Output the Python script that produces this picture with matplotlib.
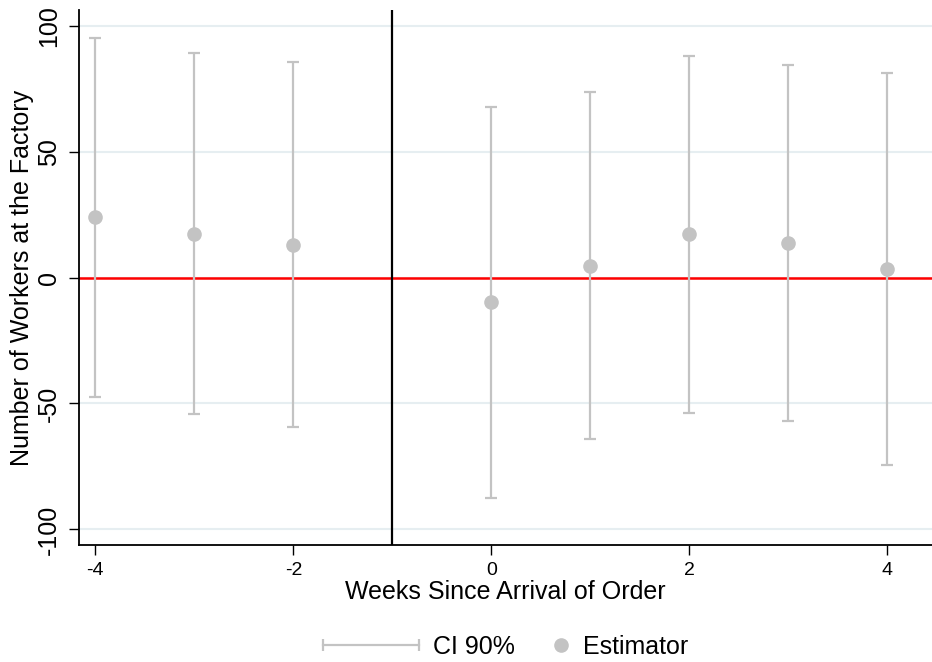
import numpy as np
import matplotlib
matplotlib.use("Agg")
import matplotlib.pyplot as plt
from matplotlib.lines import Line2D
from matplotlib.legend_handler import HandlerLine2D

# weeks relative to the order arrival
weeks = [-4, -3, -2, 0, 1, 2, 3, 4]
estimate = [23.9, 17.5, 12.9, -9.8, 4.6, 17.3, 13.7, 3.5]
ci_upper = [95.2, 89.2, 85.5, 67.8, 73.5, 88.1, 84.5, 81.3]
ci_lower = [-47.5, -54.3, -59.3, -87.6, -64.2, -53.6, -57.0, -74.6]
xticks = [-4, -2, 0, 2, 4]
yticks = [-100, -50, 0, 50, 100]

GRAY = "#c3c3c3"
GRID = "#e6eef1"

plt.rcParams['font.family'] = ['Liberation Sans', 'DejaVu Sans']

fig = plt.figure(figsize=(9.32, 6.62), dpi=100)
ax = fig.add_axes([0.0848, 0.1767, 0.9152, 0.808])

est = np.array(estimate)
yerr = [est - np.array(ci_lower), np.array(ci_upper) - est]

for y in yticks:
    ax.axhline(y, color=GRID, lw=1.5, zorder=0)

ax.axhline(0, color="#ff0000", lw=1.8, zorder=1)
ax.axvline(-1, color="black", lw=1.6, zorder=1)

ax.errorbar(weeks, est, yerr=yerr, fmt="none", ecolor=GRAY, elinewidth=1.6,
            capsize=4.5, capthick=1.6, zorder=2)
ax.plot(weeks, est, "o", color=GRAY, markersize=9.5, zorder=3)

ax.set_xlim(-4.165, 4.45)
ax.set_ylim(-106.2, 106.2)
ax.set_xticks(xticks)
ax.set_yticks(yticks)
ax.set_xticklabels([str(t) for t in xticks], fontsize=14)
ax.set_yticklabels([str(t) for t in yticks], fontsize=18, rotation=90, va="center")
ax.tick_params(axis="x", length=7, width=1, pad=5)
ax.tick_params(axis="y", length=7, width=1, pad=6)

for s in ["top", "right"]:
    ax.spines[s].set_visible(False)
ax.spines["left"].set_linewidth(1.3)
ax.spines["bottom"].set_linewidth(1.3)

ax.set_xlabel("Weeks Since Arrival of Order", fontsize=18, labelpad=1)
ax.set_ylabel("Number of Workers at the Factory", fontsize=18, labelpad=2)

ci_handle = Line2D([], [], color=GRAY, lw=1.6, marker="|", markersize=8, markeredgewidth=1.6)
est_handle = Line2D([], [], color=GRAY, lw=0, marker="o", markersize=9.5)

leg1 = ax.legend([ci_handle], ["CI 90%"], loc="center left", bbox_to_anchor=(0.286, -0.19),
                 frameon=False, fontsize=18, handlelength=3.85, handletextpad=0.56,
                 borderpad=0, borderaxespad=0,
                 handler_map={ci_handle: HandlerLine2D(numpoints=2, marker_pad=0)})
ax.add_artist(leg1)
ax.legend([est_handle], ["Estimator"], loc="center left", bbox_to_anchor=(0.553, -0.19),
          frameon=False, fontsize=18, handlelength=0.8, handletextpad=0.48,
          borderpad=0, borderaxespad=0)

fig.savefig("out.png", dpi=100)
